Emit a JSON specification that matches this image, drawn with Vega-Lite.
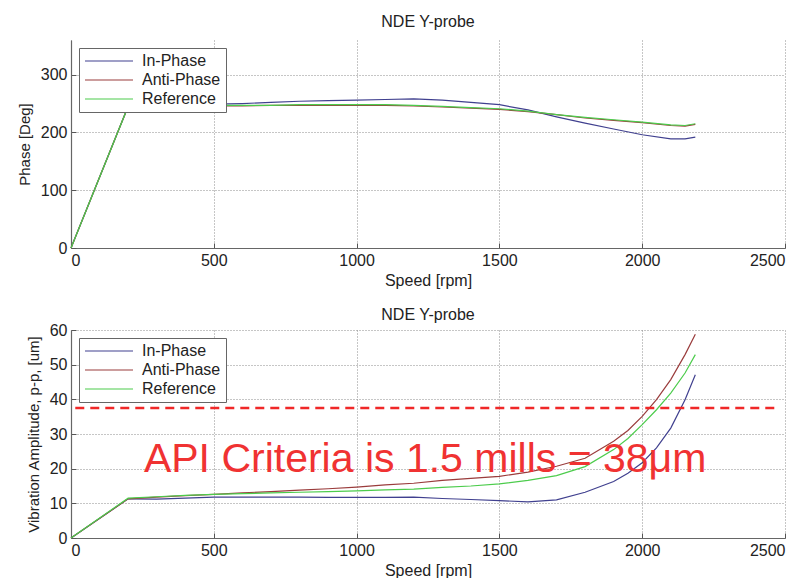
{
  "$schema": "https://vega.github.io/schema/vega-lite/v6.json",
  "background": "white",
  "padding": {"left": 17, "top": 14, "right": 5, "bottom": 0},
  "spacing": 19,
  "config": {
    "font": "Liberation Sans",
    "view": {"stroke": null},
    "axis": {
      "grid": true,
      "gridColor": "#8c8c8c",
      "gridDash": [1, 2],
      "gridWidth": 1,
      "domainColor": "#666666",
      "domainWidth": 1.2,
      "tickColor": "#555555",
      "tickSize": -5,
      "labelPadding": 9,
      "labelFontSize": 16,
      "labelColor": "#222222",
      "labelOverlap": false,
      "format": "d",
      "titleFontSize": 15,
      "titleFontWeight": "normal",
      "titleColor": "#222222"
    },
    "axisX": {"titleFontSize": 16, "titlePadding": 4},
    "axisY": {"titlePadding": 8},
    "title": {"fontSize": 16, "fontWeight": "normal", "color": "#222222", "offset": 10},
    "legend": {
      "orient": "top-left",
      "offset": 8,
      "title": null,
      "symbolType": "stroke",
      "symbolSize": 2304,
      "symbolStrokeWidth": 1.2,
      "clipHeight": 16,
      "rowPadding": 3,
      "padding": 5,
      "labelFontSize": 16,
      "labelColor": "#222222",
      "labelOffset": 8,
      "strokeColor": "#666666",
      "fillColor": "white",
      "cornerRadius": 0
    }
  },
  "datasets": {
    "phase": [
      {"speed": 0, "series": "In-Phase", "value": 0},
      {"speed": 200, "series": "In-Phase", "value": 245},
      {"speed": 300, "series": "In-Phase", "value": 247},
      {"speed": 400, "series": "In-Phase", "value": 247},
      {"speed": 500, "series": "In-Phase", "value": 249},
      {"speed": 600, "series": "In-Phase", "value": 250},
      {"speed": 700, "series": "In-Phase", "value": 252},
      {"speed": 800, "series": "In-Phase", "value": 254},
      {"speed": 900, "series": "In-Phase", "value": 255},
      {"speed": 1000, "series": "In-Phase", "value": 256},
      {"speed": 1100, "series": "In-Phase", "value": 257},
      {"speed": 1200, "series": "In-Phase", "value": 258},
      {"speed": 1300, "series": "In-Phase", "value": 256},
      {"speed": 1400, "series": "In-Phase", "value": 252},
      {"speed": 1500, "series": "In-Phase", "value": 248},
      {"speed": 1600, "series": "In-Phase", "value": 239},
      {"speed": 1700, "series": "In-Phase", "value": 227},
      {"speed": 1800, "series": "In-Phase", "value": 216},
      {"speed": 1900, "series": "In-Phase", "value": 206},
      {"speed": 2000, "series": "In-Phase", "value": 196},
      {"speed": 2100, "series": "In-Phase", "value": 189},
      {"speed": 2150, "series": "In-Phase", "value": 189},
      {"speed": 2186, "series": "In-Phase", "value": 192},
      {"speed": 0, "series": "Anti-Phase", "value": 0},
      {"speed": 200, "series": "Anti-Phase", "value": 245},
      {"speed": 300, "series": "Anti-Phase", "value": 245},
      {"speed": 400, "series": "Anti-Phase", "value": 245},
      {"speed": 500, "series": "Anti-Phase", "value": 246},
      {"speed": 600, "series": "Anti-Phase", "value": 246},
      {"speed": 700, "series": "Anti-Phase", "value": 247},
      {"speed": 800, "series": "Anti-Phase", "value": 247},
      {"speed": 900, "series": "Anti-Phase", "value": 247},
      {"speed": 1000, "series": "Anti-Phase", "value": 247},
      {"speed": 1100, "series": "Anti-Phase", "value": 247},
      {"speed": 1200, "series": "Anti-Phase", "value": 246},
      {"speed": 1300, "series": "Anti-Phase", "value": 244},
      {"speed": 1400, "series": "Anti-Phase", "value": 242},
      {"speed": 1500, "series": "Anti-Phase", "value": 240},
      {"speed": 1600, "series": "Anti-Phase", "value": 236},
      {"speed": 1700, "series": "Anti-Phase", "value": 231},
      {"speed": 1800, "series": "Anti-Phase", "value": 225},
      {"speed": 1900, "series": "Anti-Phase", "value": 221},
      {"speed": 2000, "series": "Anti-Phase", "value": 217},
      {"speed": 2100, "series": "Anti-Phase", "value": 212},
      {"speed": 2150, "series": "Anti-Phase", "value": 211},
      {"speed": 2186, "series": "Anti-Phase", "value": 214},
      {"speed": 0, "series": "Reference", "value": 0},
      {"speed": 200, "series": "Reference", "value": 245},
      {"speed": 300, "series": "Reference", "value": 246},
      {"speed": 400, "series": "Reference", "value": 246},
      {"speed": 500, "series": "Reference", "value": 247},
      {"speed": 600, "series": "Reference", "value": 247},
      {"speed": 700, "series": "Reference", "value": 247},
      {"speed": 800, "series": "Reference", "value": 248},
      {"speed": 900, "series": "Reference", "value": 248},
      {"speed": 1000, "series": "Reference", "value": 248},
      {"speed": 1100, "series": "Reference", "value": 248},
      {"speed": 1200, "series": "Reference", "value": 247},
      {"speed": 1300, "series": "Reference", "value": 245},
      {"speed": 1400, "series": "Reference", "value": 243},
      {"speed": 1500, "series": "Reference", "value": 241},
      {"speed": 1600, "series": "Reference", "value": 237},
      {"speed": 1700, "series": "Reference", "value": 231},
      {"speed": 1800, "series": "Reference", "value": 226},
      {"speed": 1900, "series": "Reference", "value": 222},
      {"speed": 2000, "series": "Reference", "value": 218},
      {"speed": 2100, "series": "Reference", "value": 213},
      {"speed": 2150, "series": "Reference", "value": 212},
      {"speed": 2186, "series": "Reference", "value": 215}
    ],
    "amp": [
      {"speed": 0, "series": "In-Phase", "value": 0},
      {"speed": 200, "series": "In-Phase", "value": 11.3},
      {"speed": 300, "series": "In-Phase", "value": 11.2},
      {"speed": 400, "series": "In-Phase", "value": 11.5},
      {"speed": 500, "series": "In-Phase", "value": 11.8},
      {"speed": 600, "series": "In-Phase", "value": 11.8},
      {"speed": 700, "series": "In-Phase", "value": 11.8},
      {"speed": 800, "series": "In-Phase", "value": 11.8},
      {"speed": 900, "series": "In-Phase", "value": 11.7},
      {"speed": 1000, "series": "In-Phase", "value": 11.7},
      {"speed": 1100, "series": "In-Phase", "value": 11.7},
      {"speed": 1200, "series": "In-Phase", "value": 11.8},
      {"speed": 1300, "series": "In-Phase", "value": 11.4},
      {"speed": 1400, "series": "In-Phase", "value": 11.1},
      {"speed": 1500, "series": "In-Phase", "value": 10.8},
      {"speed": 1600, "series": "In-Phase", "value": 10.4},
      {"speed": 1700, "series": "In-Phase", "value": 11.0},
      {"speed": 1800, "series": "In-Phase", "value": 13.2},
      {"speed": 1900, "series": "In-Phase", "value": 16.3},
      {"speed": 1950, "series": "In-Phase", "value": 18.7},
      {"speed": 2000, "series": "In-Phase", "value": 21.7},
      {"speed": 2050, "series": "In-Phase", "value": 26.0},
      {"speed": 2100, "series": "In-Phase", "value": 31.7},
      {"speed": 2150, "series": "In-Phase", "value": 39.9},
      {"speed": 2186, "series": "In-Phase", "value": 47.1},
      {"speed": 0, "series": "Anti-Phase", "value": 0},
      {"speed": 200, "series": "Anti-Phase", "value": 11.3},
      {"speed": 300, "series": "Anti-Phase", "value": 11.8},
      {"speed": 400, "series": "Anti-Phase", "value": 12.2},
      {"speed": 500, "series": "Anti-Phase", "value": 12.6},
      {"speed": 600, "series": "Anti-Phase", "value": 13.0},
      {"speed": 700, "series": "Anti-Phase", "value": 13.4},
      {"speed": 800, "series": "Anti-Phase", "value": 13.8},
      {"speed": 900, "series": "Anti-Phase", "value": 14.2},
      {"speed": 1000, "series": "Anti-Phase", "value": 14.7},
      {"speed": 1100, "series": "Anti-Phase", "value": 15.3},
      {"speed": 1200, "series": "Anti-Phase", "value": 15.8},
      {"speed": 1300, "series": "Anti-Phase", "value": 16.6},
      {"speed": 1400, "series": "Anti-Phase", "value": 17.2},
      {"speed": 1500, "series": "Anti-Phase", "value": 17.8},
      {"speed": 1600, "series": "Anti-Phase", "value": 19.0},
      {"speed": 1700, "series": "Anti-Phase", "value": 20.7},
      {"speed": 1800, "series": "Anti-Phase", "value": 23.0},
      {"speed": 1900, "series": "Anti-Phase", "value": 27.9},
      {"speed": 1950, "series": "Anti-Phase", "value": 31.0},
      {"speed": 2000, "series": "Anti-Phase", "value": 35.1},
      {"speed": 2050, "series": "Anti-Phase", "value": 39.9},
      {"speed": 2100, "series": "Anti-Phase", "value": 45.7},
      {"speed": 2150, "series": "Anti-Phase", "value": 52.9},
      {"speed": 2186, "series": "Anti-Phase", "value": 58.8},
      {"speed": 0, "series": "Reference", "value": 0},
      {"speed": 200, "series": "Reference", "value": 11.5},
      {"speed": 300, "series": "Reference", "value": 11.9},
      {"speed": 400, "series": "Reference", "value": 12.3},
      {"speed": 500, "series": "Reference", "value": 12.6},
      {"speed": 600, "series": "Reference", "value": 12.8},
      {"speed": 700, "series": "Reference", "value": 13.0},
      {"speed": 800, "series": "Reference", "value": 13.2},
      {"speed": 900, "series": "Reference", "value": 13.4},
      {"speed": 1000, "series": "Reference", "value": 13.6},
      {"speed": 1100, "series": "Reference", "value": 13.9},
      {"speed": 1200, "series": "Reference", "value": 14.1},
      {"speed": 1300, "series": "Reference", "value": 14.6},
      {"speed": 1400, "series": "Reference", "value": 15.0},
      {"speed": 1500, "series": "Reference", "value": 15.6},
      {"speed": 1600, "series": "Reference", "value": 16.6},
      {"speed": 1700, "series": "Reference", "value": 18.0},
      {"speed": 1800, "series": "Reference", "value": 20.6},
      {"speed": 1900, "series": "Reference", "value": 25.5},
      {"speed": 1950, "series": "Reference", "value": 28.7},
      {"speed": 2000, "series": "Reference", "value": 32.7},
      {"speed": 2050, "series": "Reference", "value": 37.0},
      {"speed": 2100, "series": "Reference", "value": 41.8},
      {"speed": 2150, "series": "Reference", "value": 47.6},
      {"speed": 2186, "series": "Reference", "value": 52.9}
    ],
    "limit": [
      {"start": 15, "end": 2465, "value": 37.5}
    ],
    "note": [
      {"speed": 1240, "value": 19.1, "label": "API Criteria is 1.5 mills = 38μm"}
    ]
  },
  "resolve": {"scale": {"color": "independent"}, "legend": {"color": "independent"}},
  "vconcat": [
    {
      "title": "NDE Y-probe",
      "width": 714,
      "height": 208,
      "data": {"name": "phase"},
      "mark": {"type": "line", "strokeWidth": 1.2},
      "encoding": {
        "x": {"field": "speed", "type": "quantitative", "title": "Speed [rpm]",
              "scale": {"domain": [0, 2500], "nice": false},
              "axis": {"values": [0, 500, 1000, 1500, 2000, 2500], "labelOverlap": false}},
        "y": {"field": "value", "type": "quantitative", "title": "Phase [Deg]",
              "scale": {"domain": [0, 360], "nice": false},
              "axis": {"values": [0, 100, 200, 300], "labelOverlap": false}},
        "color": {"field": "series", "type": "nominal",
                  "scale": {"domain": ["In-Phase", "Anti-Phase", "Reference"], "range": ["#40408f", "#9a3c3c", "#4ccc4c"]}},
        "order": {"field": "speed", "type": "quantitative"}
      }
    },
    {
      "title": {"text": "NDE Y-probe", "offset": -1},
      "width": 714,
      "height": 208,
      "layer": [
        {
          "data": {"name": "amp"},
          "mark": {"type": "line", "strokeWidth": 1.2},
          "encoding": {
            "x": {"field": "speed", "type": "quantitative", "title": "Speed [rpm]",
                  "scale": {"domain": [0, 2500], "nice": false},
                  "axis": {"values": [0, 500, 1000, 1500, 2000, 2500], "labelOverlap": false}},
            "y": {"field": "value", "type": "quantitative", "title": "Vibration Amplitude, p-p, [um]",
                  "scale": {"domain": [0, 60], "nice": false},
                  "axis": {"values": [0, 10, 20, 30, 40, 50, 60], "labelOverlap": false}},
            "color": {"field": "series", "type": "nominal",
                      "scale": {"domain": ["In-Phase", "Anti-Phase", "Reference"], "range": ["#40408f", "#9a3c3c", "#4ccc4c"]}},
            "order": {"field": "speed", "type": "quantitative"}
          }
        },
        {
          "data": {"name": "limit"},
          "mark": {"type": "rule", "color": "#f02828", "strokeWidth": 2.6, "strokeDash": [9, 6]},
          "encoding": {
            "x": {"field": "start", "type": "quantitative", "title": "Speed [rpm]",
                  "scale": {"domain": [0, 2500], "nice": false},
                  "axis": {"values": [0, 500, 1000, 1500, 2000, 2500], "labelOverlap": false}},
            "x2": {"field": "end"},
            "y": {"field": "value", "type": "quantitative", "title": "Vibration Amplitude, p-p, [um]",
                  "scale": {"domain": [0, 60], "nice": false},
                  "axis": {"values": [0, 10, 20, 30, 40, 50, 60], "labelOverlap": false}}
          }
        },
        {
          "data": {"name": "note"},
          "mark": {"type": "text", "color": "#f03232", "fontSize": 41, "align": "center", "baseline": "alphabetic"},
          "encoding": {
            "x": {"field": "speed", "type": "quantitative", "title": "Speed [rpm]",
                  "scale": {"domain": [0, 2500], "nice": false},
                  "axis": {"values": [0, 500, 1000, 1500, 2000, 2500], "labelOverlap": false}},
            "y": {"field": "value", "type": "quantitative", "title": "Vibration Amplitude, p-p, [um]",
                  "scale": {"domain": [0, 60], "nice": false},
                  "axis": {"values": [0, 10, 20, 30, 40, 50, 60], "labelOverlap": false}},
            "text": {"field": "label"}
          }
        }
      ]
    }
  ]
}
